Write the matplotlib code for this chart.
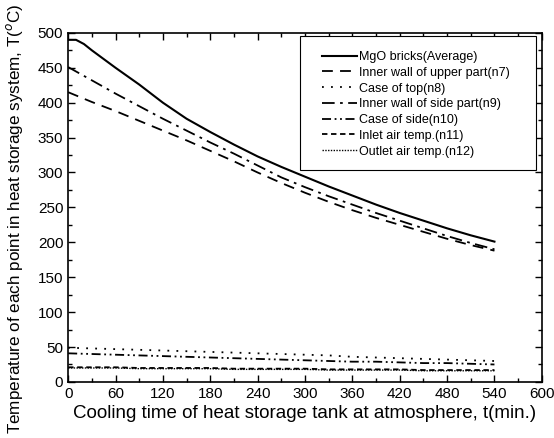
import numpy as np
import matplotlib
matplotlib.use("Agg")
import matplotlib.pyplot as plt
from matplotlib.ticker import MultipleLocator
from matplotlib.patches import Rectangle

plt.rcParams['font.family'] = ['Liberation Sans', 'DejaVu Sans']

# time axis (min.)
t = [0, 30, 60, 90, 120, 150, 180, 210, 240, 270, 300, 330, 360, 390, 420, 450, 480, 510, 540]
t_mgo = [0, 10, 20, 30, 60, 90, 120, 150, 180, 210, 240, 270, 300, 330, 360, 390, 420, 450, 480, 510, 540]

mgo = [490, 490, 484, 475, 450, 426, 400, 377, 358, 340, 323, 308, 294, 280, 267, 254, 242, 231, 220, 210, 201]
n7 = [415, 401, 388, 374, 360, 346, 331, 316, 300, 285, 271, 258, 246, 235, 225, 215, 205, 196, 188]
n8 = [49, 48, 47, 46, 45, 44, 43, 42, 41, 40, 39, 38, 36, 35, 34, 33, 32, 31, 30]
n9 = [451, 432, 413, 395, 377, 360, 343, 327, 310, 293, 279, 266, 254, 242, 231, 220, 209, 199, 190]
n10 = [41, 40, 39, 38, 37, 36, 35, 34, 33, 32, 31, 30, 29, 29, 28, 27, 27, 26, 25]
n11 = [21, 21, 21, 20, 20, 20, 20, 19, 19, 19, 19, 18, 18, 18, 18, 17, 17, 17, 17]
n12 = [20, 20, 20, 19, 19, 19, 19, 18, 18, 18, 18, 17, 17, 17, 17, 16, 16, 16, 16]

labels = ['MgO bricks(Average)', 'Inner wall of upper part(n7)', 'Case of top(n8)',
          'Inner wall of side part(n9)', 'Case of side(n10)', 'Inlet air temp.(n11)',
          'Outlet air temp.(n12)']

fig = plt.figure(figsize=(5.54, 4.38), dpi=100)
ax = fig.add_axes([0.123, 0.128, 0.855, 0.797])

ax.plot(t_mgo, mgo, color='black', lw=1.5, ls='-', label=labels[0])
ax.plot(t, n7, color='black', lw=1.3, ls=(0, (6, 4)), label=labels[1])
ax.plot(t, n8, color='black', lw=1.3, ls=(0, (1, 4)), label=labels[2])
ax.plot(t, n9, color='black', lw=1.3, ls=(0, (7, 3, 1.5, 3)), label=labels[3])
ax.plot(t, n10, color='black', lw=1.3, ls=(0, (5, 2, 1, 2, 1, 2)), label=labels[4])
ax.plot(t, n11, color='black', lw=1.3, ls=(0, (3, 2)), label=labels[5])
ax.plot(t, n12, color='black', lw=1.0, ls=(0, (1, 1)), label=labels[6])

ax.set_xlim(0, 600)
ax.set_ylim(0, 500)
ax.xaxis.set_major_locator(MultipleLocator(60))
ax.xaxis.set_minor_locator(MultipleLocator(30))
ax.yaxis.set_major_locator(MultipleLocator(50))
ax.yaxis.set_minor_locator(MultipleLocator(25))
ax.tick_params(which='both', direction='in', top=True, right=True, labelsize=11)
ax.tick_params(which='major', length=5, width=1)
ax.tick_params(which='minor', length=3, width=1)
for s in ax.spines.values():
    s.set_linewidth(1.2)

ax.set_xlabel('Cooling time of heat storage tank at atmosphere, t(min.)', fontsize=13.5, labelpad=3)
fig.text(0.027, 0.5, 'Temperature of each point in heat storage system, T($^o$C)',
         fontsize=12.3, rotation=90, ha='center', va='center')

# legend frame drawn separately so the padding can differ left/right vs top/bottom
box = Rectangle((0.4895, 0.607), 0.4975, 0.384, transform=ax.transAxes,
                facecolor='white', edgecolor='black', lw=0.8, zorder=4.5)
ax.add_patch(box)
leg = ax.legend(loc='upper left', fontsize=9, frameon=False,
                handlelength=2.8, handletextpad=0.15, labelspacing=0.30,
                borderpad=0, borderaxespad=0, bbox_to_anchor=(0.536, 0.948))
leg.set_zorder(5)

fig.savefig('out.png', dpi=100)
